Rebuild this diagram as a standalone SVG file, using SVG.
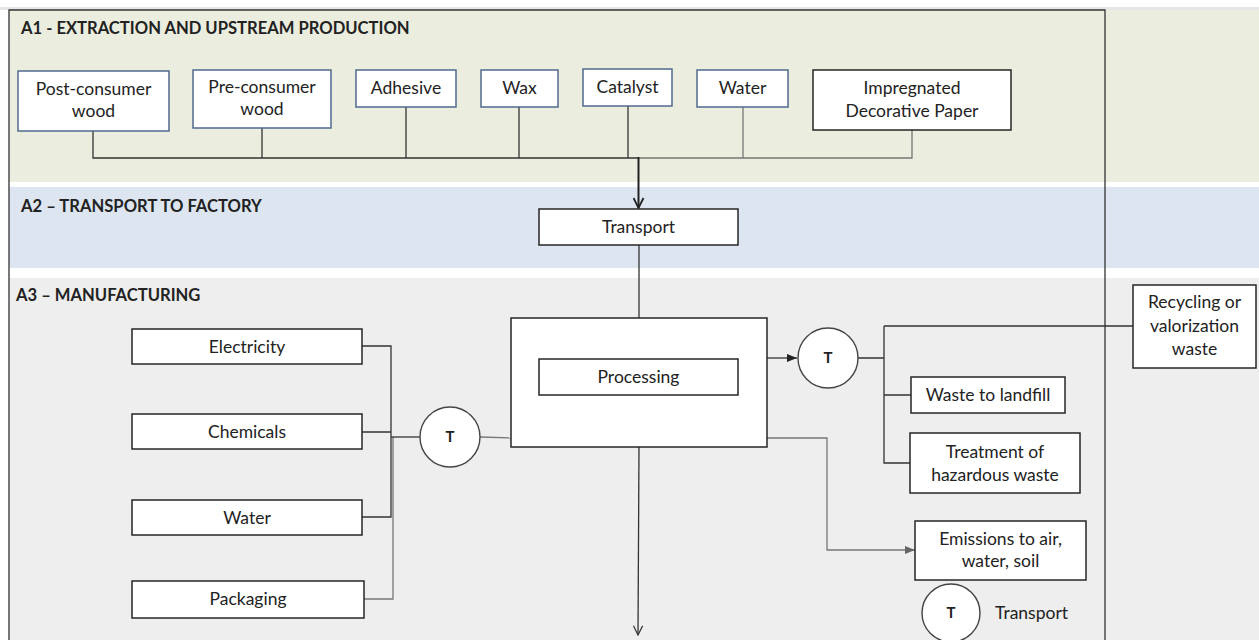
<svg xmlns="http://www.w3.org/2000/svg" width="1259" height="640" viewBox="0 0 1259 640">
<style>
text{font-family:Lato,"Liberation Sans",sans-serif;fill:#222;}
.t{font-size:17.5px;text-anchor:middle;}
.h{font-size:16.6px;font-weight:bold;}
.tb{font-size:15px;font-weight:bold;text-anchor:middle;}
.bb{fill:#fff;stroke:#50698f;stroke-width:1.5;}
.bk{fill:#fff;stroke:#262626;stroke-width:1.5;}
.c{fill:#fff;stroke:#444;stroke-width:1.4;}
.ln{fill:none;stroke:#333;stroke-width:1.3;}
.lg{fill:none;stroke:#777;stroke-width:1.3;}
</style>
<defs>
<marker id="openV" viewBox="0 0 12 12" refX="11" refY="6" markerWidth="12" markerHeight="12" markerUnits="userSpaceOnUse" orient="auto"><path d="M1,1 L11,6 L1,11" fill="none" stroke="#222" stroke-width="1.8"/></marker>
<marker id="openVs" viewBox="0 0 12 12" refX="11" refY="6" markerWidth="11" markerHeight="11" markerUnits="userSpaceOnUse" orient="auto"><path d="M1,1 L11,6 L1,11" fill="none" stroke="#333" stroke-width="1.3"/></marker>
<marker id="fill" viewBox="0 0 10 10" refX="10" refY="5" markerWidth="10" markerHeight="10" markerUnits="userSpaceOnUse" orient="auto"><path d="M0,1 L10,5 L0,9 Z" fill="#222"/></marker>
<marker id="fillg" viewBox="0 0 10 10" refX="10" refY="5" markerWidth="10" markerHeight="10" markerUnits="userSpaceOnUse" orient="auto"><path d="M0,1 L10,5 L0,9 Z" fill="#666"/></marker>
</defs>
<rect x="0" y="0" width="1259" height="640" fill="#fff"/>
<g id="bands">
<rect x="0" y="7" width="1259" height="3" fill="#e6e6e6"/>
<rect x="9" y="10" width="1250" height="172" fill="#ebeedf"/>
<rect x="9" y="187" width="1250" height="81" fill="#dce5f0"/>
<rect x="9" y="278" width="1250" height="362" fill="#eeeeee"/>
<path d="M9,640 V10 H1105 V640" fill="none" stroke="#333" stroke-width="1.3"/>
<text class="h" x="21" y="34">A1 - EXTRACTION AND UPSTREAM PRODUCTION</text>
<text class="h" x="21" y="212">A2 – TRANSPORT TO FACTORY</text>
<text class="h" x="16" y="301">A3 – MANUFACTURING</text>
</g>
<g id="connectors">
<path class="ln" d="M93,131 V158 H638"/>
<path class="ln" d="M262,128 V158 M406,107 V158 M519,107 V158 M628,106 V158"/>
<path class="lg" d="M638,158 H912 V130 M743,107 V158"/>
<path d="M638.5,157 V208" fill="none" stroke="#222" stroke-width="2" marker-end="url(#openV)"/>
<path class="ln" d="M639,245 V318"/>
<path class="ln" d="M362,346 H391 V517 H362 M362,432 H391"/>
<path class="lg" d="M364,599 H393 V437"/>
<path class="ln" d="M391,437 H420"/>
<path class="lg" d="M480,437 L511,438"/>
<path class="ln" d="M767,358 H797" marker-end="url(#fill)"/>
<path class="ln" d="M858,358 H884 M884,326 V463 H910 M884,395 H911 M884,326 H1133"/>
<path class="ln" d="M639,447 L638,635" marker-end="url(#openVs)"/>
<path class="lg" d="M767,438 H827 V550 H915" marker-end="url(#fillg)"/>
</g>
<g id="post-consumer-wood"><rect class="bb" x="18" y="71" width="151" height="60"/><text class="t" x="93.5" y="95">Post-consumer</text><text class="t" x="93.5" y="117">wood</text></g>
<g id="pre-consumer-wood"><rect class="bb" x="193" y="70" width="138" height="58"/><text class="t" x="262" y="93">Pre-consumer</text><text class="t" x="262" y="115">wood</text></g>
<g id="adhesive"><rect class="bb" x="356" y="70" width="100" height="37"/><text class="t" x="406" y="94">Adhesive</text></g>
<g id="wax"><rect class="bb" x="481" y="70" width="77" height="37"/><text class="t" x="519.5" y="94">Wax</text></g>
<g id="catalyst"><rect class="bb" x="583" y="69" width="89" height="37"/><text class="t" x="627.5" y="93">Catalyst</text></g>
<g id="water-a1"><rect class="bb" x="697" y="70" width="91" height="37"/><text class="t" x="742.5" y="94">Water</text></g>
<g id="impregnated-paper"><rect class="bk" x="813" y="70" width="198" height="60"/><text class="t" x="912" y="94">Impregnated</text><text class="t" x="912" y="117">Decorative Paper</text></g>
<g id="transport"><rect class="bk" x="539" y="209" width="199" height="36"/><text class="t" x="638.5" y="233">Transport</text></g>
<g id="processing-outer"><rect class="bk" x="511" y="318" width="256" height="129"/></g>
<g id="processing"><rect class="bk" x="539" y="359" width="199" height="36"/><text class="t" x="638.5" y="383">Processing</text></g>
<g id="electricity"><rect class="bk" x="132" y="329" width="230" height="35"/><text class="t" x="247" y="353">Electricity</text></g>
<g id="chemicals"><rect class="bk" x="132" y="414" width="230" height="35"/><text class="t" x="247" y="438">Chemicals</text></g>
<g id="water-a3"><rect class="bk" x="132" y="500" width="230" height="35"/><text class="t" x="247" y="524">Water</text></g>
<g id="packaging"><rect class="bk" x="132" y="581" width="232" height="37"/><text class="t" x="248" y="605">Packaging</text></g>
<g id="t-in"><circle class="c" cx="450" cy="437" r="30"/><text class="tb" x="450" y="442">T</text></g>
<g id="t-out"><circle class="c" cx="828" cy="358" r="30"/><text class="tb" x="828" y="363">T</text></g>
<g id="waste-landfill"><rect class="bk" x="911" y="377" width="154" height="36"/><text class="t" x="988" y="401">Waste to landfill</text></g>
<g id="hazardous-waste"><rect class="bk" x="910" y="433" width="170" height="60"/><text class="t" x="995" y="458">Treatment of</text><text class="t" x="995" y="481">hazardous waste</text></g>
<g id="recycling"><rect class="bk" x="1133" y="285" width="123" height="83"/><text class="t" x="1194.5" y="308">Recycling or</text><text class="t" x="1194.5" y="332">valorization</text><text class="t" x="1194.5" y="355">waste</text></g>
<g id="emissions"><rect class="bk" x="915" y="521" width="171" height="59"/><text class="t" x="1000.5" y="545">Emissions to air,</text><text class="t" x="1000.5" y="567">water, soil</text></g>
<g id="legend"><circle class="c" cx="951" cy="613" r="29"/><text class="tb" x="951" y="618">T</text><text style="font-size:17.5px" x="995" y="619">Transport</text></g>
</svg>
